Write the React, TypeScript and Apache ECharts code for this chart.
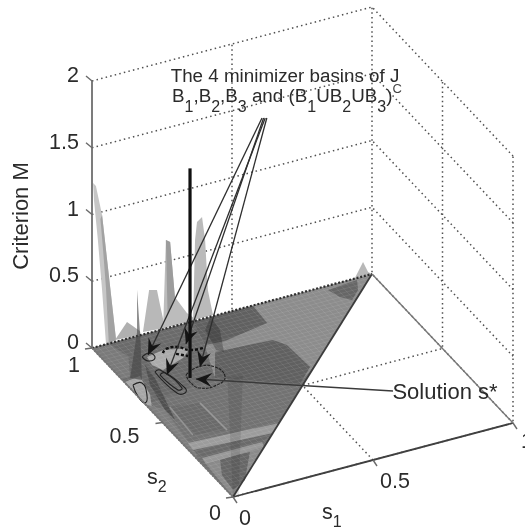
import React, { useEffect, useRef } from "react";
import * as echarts from "echarts";

type P3 = number[];

// ticks
const s1Ticks = [0, 0.5, 1];
const s2Ticks = [0, 0.5, 1];
const mTicks = [0, 0.5, 1, 1.5, 2];
const s1TickLabels = ["0", "0.5", "1"];
const s2TickLabels = ["0", "0.5", "1"];
const mTickLabels = ["0", "0.5", "1", "1.5", "2"];

// surface corners in (s1, s2)
const domain = [[0, 0], [0, 1], [1, 1]];

// floor regions of the criterion surface, (s1, s2)
const upperLight = [[0.33, 0.856], [0.36, 1], [1, 1], [0.583, 0.583], [0.27, 0.664]];
const lowerMid = [[0, 0], [0, 0.65], [0.27, 0.68], [0.5, 0.52], [0.583, 0.583]];
const leftMid = [[0, 0.62], [0, 1], [0.36, 1], [0.33, 0.856], [0.27, 0.664]];
const darkA = [[0.359, 0.996], [0.574, 0.997], [0.568, 0.886], [0.399, 0.849], [0.331, 0.856]];
const darkB = [[0.341, 0.804], [0.539, 0.786], [0.565, 0.74], [0.572, 0.589], [0.497, 0.512], [0.27, 0.664]];
const darkC = [[0.831, 0.977], [0.941, 0.989], [0.917, 0.934], [0.873, 0.889], [0.846, 0.922]];
const lightL1 = [[0.133, 0.874], [0.198, 0.889], [0.28, 0.861], [0.233, 0.817], [0.143, 0.781], [0.126, 0.824]];
const lightL2 = [[0.002, 0.771], [0.061, 0.782], [0.039, 0.665], [0, 0.571]];
const cornerMid = [[0, 1], [0.06, 1], [0.08, 0.9], [0.03, 0.79], [0, 0.79]];
const darkDiag = [[0.106, 0.834], [0.099, 0.75], [0.043, 0.496], [0.041, 0.564], [0.066, 0.719]];
const band1 = [[0.017, 0.354], [0.332, 0.332], [0.287, 0.287], [0.013, 0.309]];
const band2 = [[0.017, 0.253], [0.232, 0.254], [0.224, 0.224], [0.012, 0.216]];
const bandGap = [[0.013, 0.309], [0.287, 0.287], [0.232, 0.254], [0.017, 0.253]];
const vertexTri = [[0, 0], [0.012, 0.216], [0.224, 0.224]];
const vertexBlot = [[0.068, 0.228], [0.17, 0.218], [0.08, 0.074], [0.019, 0.038], [0.028, 0.134]];
const stripMid = [[0.063, 0.573], [0.16, 0.552], [0.164, 0.368], [0.053, 0.39]];
const leftStrip = [[0, 0.25], [0, 0.62], [0.04, 0.57], [0.017, 0.3]];
const ridge1 = [[0.16, 0.552], [0.164, 0.368]];
const ridge2 = [[0.063, 0.573], [0.053, 0.39]];

// peaks standing on the back edge, (s1, s2, M)
const spikeA = [[0.004, 1, 1.234], [0.014, 1, 1.205], [0.036, 1, 0.977], [0.05, 1, 0.706], [0.064, 1, 0.436], [0.086, 1, 0.013], [0.05, 1, 0], [0.036, 1, 0.415], [0.021, 1, 0.797], [0.007, 1, 1.105]];
const spikeACore = [[0.03, 1, 0.95], [0.036, 1, 0.977], [0.05, 1, 0.706], [0.064, 1, 0.436], [0.086, 1, 0.013], [0.06, 1, 0], [0.05, 1, 0.42], [0.04, 1, 0.7]];
const spikeB = [[0.082, 1, 0.014], [0.125, 1, 0.125], [0.171, 1, 0.032], [0.175, 1, 0]];
const spikeC = [[0.182, 1, 0.019], [0.204, 1, 0.321], [0.232, 1, 0.306], [0.243, 1, 0.187], [0.261, 1, 0.005]];
const spikeD = [[0.254, 1, 0.009], [0.264, 1, 0.662], [0.279, 1, 0.64], [0.296, 1, 0.218], [0.339, 1, 0.074], [0.375, 1, 0]];
const spikeDCore = [[0.264, 1, 0.662], [0.279, 1, 0.64], [0.296, 1, 0.218], [0.27, 1, 0.1]];
const spikeE = [[0.361, 1, 0.01], [0.368, 1, 0.605], [0.375, 1, 0.736], [0.393, 1, 0.763], [0.404, 1, 0.585], [0.414, 1, 0.204], [0.432, 1, 0.007]];
const spikeF = [[0.939, 1, 0.004], [0.968, 1, 0.108], [0.986, 1, 0.022], [1, 1, 0]];
// translucent peaks standing in front of the surface
const frontNarrow = [[0.028, 0.785, 0], [0.045, 0.77, 0.35], [0.037, 0.754, 0.69], [0.05, 0.755, 0.3], [0.056, 0.757, 0]];
const frontShade = [[0.424, 1, 0], [0.414, 0.915, 0], [0.366, 0.791, 0], [0.349, 0.813, 0], [0.372, 0.936, 0]];
const vertexColumn = [[0, 0, 0], [0, 0.04, 0.85], [0.05, 0.03, 0.85], [0.02, 0, 0]];

// contours of the basins, (s1, s2)
const contourOval = [[0.017, 0.743], [0.048, 0.741], [0.03, 0.67], [0.003, 0.63], [0, 0.672]];
const contourCapsule = [[0.115, 0.782], [0.135, 0.785], [0.158, 0.653], [0.144, 0.626], [0.121, 0.638]];
const contourCapsuleInner = [[0.121, 0.759], [0.141, 0.762], [0.149, 0.658], [0.132, 0.653]];
const contourEllipse = [[0.196, 0.722], [0.252, 0.748], [0.3, 0.724], [0.302, 0.656], [0.257, 0.624], [0.2, 0.632], [0.188, 0.678]];
const contourSmall = [[0.119, 0.881], [0.152, 0.891], [0.153, 0.857], [0.125, 0.851]];
const contourDash1 = [[0.189, 0.872], [0.209, 0.89], [0.246, 0.885], [0.275, 0.85], [0.317, 0.843]];
const contourDash2 = [[0.224, 0.849], [0.253, 0.821]];

// the four minimizer basins and the solution, (s1, s2)
const basinTargets = [[0.141, 0.883], [0.279, 0.888], [0.141, 0.749], [0.257, 0.745]];
const solutionTarget = [0.213, 0.686];
const solutionStem = [[0.199, 0.7, 0], [0.199, 0.7, 1.57]];

const project = (s1: number, s2: number, m: number) => [
  233 + 280 * s1 - 141 * s2,
  497 - 74 * s1 - 149 * s2 - 133.5 * m,
];

const poly = (api: any, pts: P3[], style: any) => ({
  type: "polygon",
  shape: { points: pts.map((p) => api.coord(project(p[0], p[1], p[2] || 0))) },
  style,
});
const line = (api: any, pts: P3[], style: any, smooth = false) => ({
  type: "polyline",
  shape: { points: pts.map((p) => api.coord(project(p[0], p[1], p[2] || 0))), smooth: smooth ? 0.5 : 0 },
  style: { fill: "none", ...style },
});

const wallDot = { stroke: "#505050", lineWidth: 1.5, lineDash: [1.5, 3.2] };

function layer(z: number, children: (api: any) => any[]) {
  return {
    type: "custom",
    coordinateSystem: "cartesian2d",
    silent: true,
    clip: false,
    z,
    data: [[0, 0]],
    renderItem: (_: any, api: any) => ({ type: "group", children: children(api) }),
  };
}

const closed = (a: number[][]) => [...a, a[0]];

function arrowHead(tip: number[], from: number[], fill: string) {
  const dx = tip[0] - from[0], dy = tip[1] - from[1];
  const l = Math.hypot(dx, dy), u = dx / l, v = dy / l;
  const len = 16, w = 7, notch = 10;
  return {
    type: "polygon",
    shape: {
      points: [
        tip,
        [tip[0] - u * len - v * w, tip[1] - v * len + u * w],
        [tip[0] - u * notch, tip[1] - v * notch],
        [tip[0] - u * len + v * w, tip[1] - v * len - u * w],
      ],
    },
    style: { fill },
  };
}

const sans = "'Liberation Sans', Arial, sans-serif";
const ink = "#2b2b2b";
const txt = (x: number, y: number, text: string, extra: any = {}) => ({
  type: "text",
  x,
  y,
  style: {
    text,
    font: `21.5px ${sans}`,
    fill: ink,
    align: "center",
    verticalAlign: "middle",
    ...extra,
  },
});

export default function App() {
  const ref = useRef<HTMLDivElement>(null);
  useEffect(() => {
    document.body.style.margin = "0";
    const chart = echarts.init(ref.current!, undefined, { renderer: "svg" });

    const walls = layer(1, (api) => {
      const out: any[] = [];
      mTicks.slice(1).forEach((m) => {
        out.push(line(api, [[0, 1, m], [1, 1, m], [1, 0, m]], wallDot));
      });
      s1Ticks.slice(1).forEach((s) => {
        out.push(line(api, [[s, 0, 0], [s, 1, 0], [s, 1, 2]], wallDot));
      });
      s2Ticks.slice(0, 2).forEach((s) => {
        out.push(line(api, [[0, s, 0], [1, s, 0], [1, s, 2]], wallDot));
      });
      return out;
    });

    const spikes = layer(2, (api) => [
      poly(api, spikeA, { fill: "#c6c6c6" }),
      poly(api, spikeACore, { fill: "#a2a2a2" }),
      poly(api, spikeB, { fill: "#b0b0b0" }),
      poly(api, spikeC, { fill: "#b8b8b8" }),
      poly(api, spikeD, { fill: "#bcbcbc" }),
      poly(api, spikeDCore, { fill: "#9c9c9c" }),
      poly(api, spikeE, { fill: "#bababa" }),
      poly(api, spikeF, { fill: "#b8b8b8" }),
    ]);

    const floorFills: [number[][], string][] = [
      [domain, "#8c8c8c"],
      [upperLight, "#8c8c8c"],
      [lowerMid, "#727272"],
      [leftMid, "#6a6a6a"],
      [darkA, "#606060"],
      [darkB, "#606060"],
      [darkC, "#666666"],
      [cornerMid, "#7a7a7a"],
      [lightL1, "#ababab"],
      [lightL2, "#a6a6a6"],
      [darkDiag, "#505050"],
      [leftStrip, "#7e7e7e"],
      [stripMid, "#6a6a6a"],
      [vertexTri, "#8a8a8a"],
      [vertexBlot, "#666666"],
      [bandGap, "#6a6a6a"],
      [band1, "#9c9c9c"],
      [band2, "#989898"],
    ];
    const floor = layer(3, (api) =>
      floorFills.map(([pts, fill]) => poly(api, pts, { fill }))
    );

    const mesh = layer(4, (api) => {
      const out: any[] = [];
      const step = 0.02;
      const style = { stroke: "rgba(255,255,255,0.12)", lineWidth: 0.7 };
      for (let k = 0; k <= 50; k++) {
        const t = k * step;
        out.push(line(api, [[t, t], [t, 1]], style));
        out.push(line(api, [[0, t], [t, t]], style));
      }
      out.push(line(api, ridge1, { stroke: "#989898", lineWidth: 1.6 }));
      out.push(line(api, ridge2, { stroke: "#949494", lineWidth: 1.4 }));
      return out;
    });

    const edges = layer(5, (api) => [
      line(api, [[0, 1], [1, 1]], { stroke: "#2e2e2e", lineWidth: 2.2, lineDash: [2, 1.8] }),
      line(api, [[0, 1], [0, 0]], { stroke: "#6a6a6a", lineWidth: 1.8, lineDash: [2, 1.5] }),
      line(api, [[0, 0], [1, 1]], { stroke: "#3c3c3c", lineWidth: 1.8 }),
      poly(api, frontShade, { fill: "rgba(30,30,30,0.3)" }),
      poly(api, frontNarrow, { fill: "rgba(70,70,70,0.62)" }),
      poly(api, vertexColumn, { fill: "rgba(30,30,30,0.12)" }),
    ]);

    const contours = layer(6, (api) => {
      const st = { stroke: "#222", lineWidth: 1.1 };
      return [
        line(api, closed(contourOval), st, true),
        line(api, closed(contourCapsule), st, true),
        line(api, closed(contourCapsuleInner), st, true),
        line(api, closed(contourEllipse), { ...st, lineDash: [3, 1] }, true),
        line(api, closed(contourSmall), st, true),
        line(api, contourDash1, { stroke: "#111", lineWidth: 2.4, lineDash: [3, 2] }, true),
        line(api, contourDash2, { stroke: "#111", lineWidth: 2.4, lineDash: [3, 2] }),
      ];
    });

    const axes = layer(7, (api) => {
      const out: any[] = [
        line(api, [[0, 1, 0], [0, 1, 2]], { stroke: "#6e6e6e", lineWidth: 1.8 }),
        line(api, [[0, 0], [1, 0]], { stroke: "#404040", lineWidth: 1.8 }),
        line(api, [[0, 1], [0, 0]], { stroke: "#777", lineWidth: 1.2 }),
        line(api, [[1, 1], [1, 0]], { stroke: "#777", lineWidth: 1.4 }),
      ];
      const tick = (a: number[], dx: number, dy: number) => {
        const p = project(a[0], a[1], a[2]);
        const q = [p[0] + dx, p[1] + dy];
        out.push({
          type: "line",
          shape: {
            x1: api.coord(p)[0], y1: api.coord(p)[1],
            x2: api.coord(q)[0], y2: api.coord(q)[1],
          },
          style: { stroke: "#6a6a6a", lineWidth: 1.4 },
        });
      };
      mTicks.forEach((m) => tick([0, 1, m], -6, -5));
      s1Ticks.forEach((s) => tick([s, 0, 0], 4, 6));
      s2Ticks.forEach((s) => tick([0, s, 0], -7, 1));
      return out;
    });

    const apex = [262, 118];
    const solutionLabelAnchor = [393, 391];
    const notes = layer(8, (api) => {
      const out: any[] = [];
      basinTargets.forEach((t, i) => {
        const tip = api.coord(project(t[0], t[1], 0));
        const from = api.coord([apex[0] + i * 1.6, apex[1]]);
        out.push({
          type: "line",
          shape: { x1: from[0], y1: from[1], x2: tip[0], y2: tip[1] },
          style: { stroke: "#2e2e2e", lineWidth: 1.3 },
        });
        out.push(arrowHead(tip, from, "#151515"));
      });
      const tip = api.coord(project(solutionTarget[0], solutionTarget[1], 0));
      const from = api.coord(solutionLabelAnchor);
      out.push({
        type: "line",
        shape: { x1: from[0], y1: from[1], x2: tip[0], y2: tip[1] },
        style: { stroke: "#3a3a3a", lineWidth: 1.5 },
      });
      out.push(arrowHead(tip, from, "#151515"));
      out.push(line(api, solutionStem, { stroke: "#111", lineWidth: 3.2 }));
      return out;
    });

    const subRich = {
      n: { font: `18.8px ${sans}`, fill: ink, lineHeight: 20, verticalAlign: "top" },
      b: { font: `21.5px ${sans}`, fill: ink, lineHeight: 22, verticalAlign: "top" },
      s: { font: `16px ${sans}`, fill: ink, lineHeight: 16, verticalAlign: "top", padding: [12, 0, 0, 0] },
      c: { font: `13px ${sans}`, fill: "#444", lineHeight: 14, verticalAlign: "top", padding: [-4, 0, 0, 0] },
    };

    const labels = layer(9, () => {
      const out: any[] = [];
      const xOff = [[12, 21], [22, 21], [14, 18]];
      s1Ticks.forEach((s, i) => {
        const p = project(s, 0, 0);
        out.push(txt(p[0] + xOff[i][0], p[1] + xOff[i][1], s1TickLabels[i]));
      });
      const yOff = [[-18, 16], [-38, 13], [-18, 17]];
      s2Ticks.forEach((s, i) => {
        const p = project(0, s, 0);
        out.push(txt(p[0] + yOff[i][0], p[1] + yOff[i][1], s2TickLabels[i]));
      });
      mTicks.forEach((m, i) => {
        const p = project(0, 1, m);
        out.push(txt(p[0] - 13, p[1] - 6, mTickLabels[i], { align: "right" }));
      });
      out.push(txt(20, 216, "Criterion M", { font: `22px ${sans}` }));
      out[out.length - 1].rotation = Math.PI / 2;
      out.push(txt(445, 391, "Solution s*", { font: `22px ${sans}` }));
      out.push(txt(285, 75, "The 4 minimizer basins of J", { font: `18.8px ${sans}` }));
      out.push({
        type: "text",
        x: 172,
        y: 86,
        style: {
          text: "{n|B}{s|1}{n|,B}{s|2}{n|,B}{s|3}{n| and (B}{s|1}{n|UB}{s|2}{n|UB}{s|3}{n|)}{c|C}",
          rich: subRich,
          align: "left",
          verticalAlign: "top",
        },
      });
      out.push({
        type: "text",
        x: 147,
        y: 466,
        style: { text: "{b|s}{s|2}", rich: subRich, align: "left", verticalAlign: "top" },
      });
      out.push({
        type: "text",
        x: 322,
        y: 501,
        style: { text: "{b|s}{s|1}", rich: subRich, align: "left", verticalAlign: "top" },
      });
      return out;
    });

    chart.setOption({
      animation: false,
      backgroundColor: "#fff",
      grid: { left: 0, right: 0, top: 0, bottom: 0 },
      xAxis: { type: "value", min: 0, max: 525, show: false },
      yAxis: { type: "value", min: 0, max: 532, inverse: true, show: false },
      series: [walls, spikes, floor, mesh, edges, contours, axes, notes, labels],
    });
    return () => chart.dispose();
  }, []);
  return <div ref={ref} style={{ width: 525, height: 532, filter: "blur(0.5px)" }} />;
}
